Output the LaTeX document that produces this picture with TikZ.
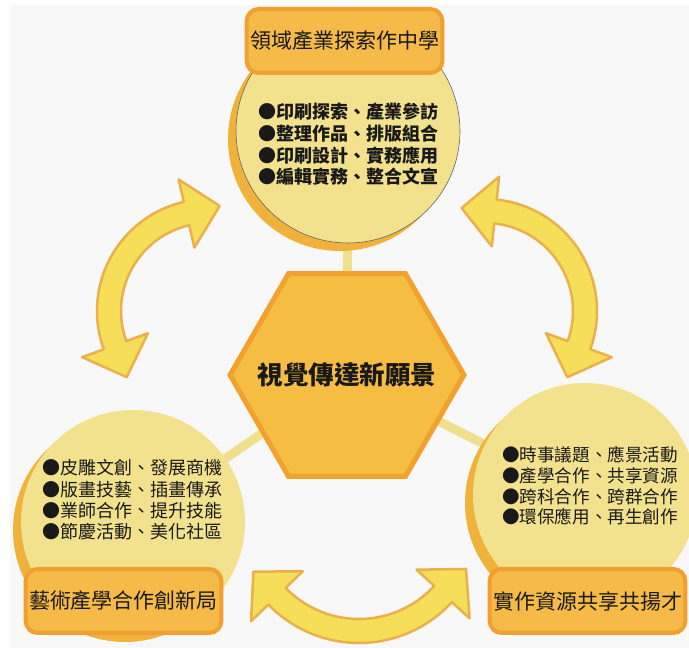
\documentclass[tikz,border=0pt]{standalone}
\usepackage{fontspec}
\setmainfont{Noto Sans CJK TC}
\usetikzlibrary{shadows}
\definecolor{bgray}{HTML}{F8F8F8}
\definecolor{cfill}{HTML}{F2E28E}
\definecolor{cshadow}{HTML}{F0B23A}
\definecolor{boxfill}{HTML}{F6BA48}
\definecolor{boxline}{HTML}{F0A030}
\definecolor{hexfill}{HTML}{F5BE42}
\definecolor{hexline}{HTML}{F2A12E}
\definecolor{arrfill}{HTML}{F6DE58}
\definecolor{arrline}{HTML}{E9B04C}
\definecolor{linkc}{HTML}{F0DF8C}
\tikzset{
  bubble/.style={circle, fill=cfill, minimum size=224pt, inner sep=0pt,
    drop shadow={shadow xshift=-8pt, shadow yshift=-8pt, fill=cshadow, opacity=1}},
  tag/.style={rounded corners=12pt, fill=boxfill, draw=boxline, line width=4pt,
    minimum width=192pt, minimum height=64pt, text=black!90, font=\fontsize{21}{24}\selectfont},
  hexa/.style={fill=hexfill, draw=hexline, line width=5pt, line join=miter},
  hextxt/.style={inner sep=0pt, text=black!90, font=\bfseries\fontsize{25.5}{28}\selectfont},
  link/.style={draw=linkc, line width=9pt},
  bigarrow/.style={fill=arrfill, draw=arrline, line width=2.5pt, line join=round},
  items/.style={align=left, text=black!90, inner sep=0pt}
}
\begin{document}
\begin{tikzpicture}[x=1pt,y=1pt]
    \useasboundingbox (0,0) rectangle (689,648);
    \fill[white] (0,0) rectangle (689,648);
    \fill[bgray] (10,0) rectangle (689,643);
    % centres
    \coordinate (hexc) at (347,273);
    \coordinate (topcc) at (348,517);
    \coordinate (leftcc) at (133,126);
    \coordinate (rightcc) at (585,153);
    % links
    \draw[link] (hexc) -- (topcc);
    \draw[link] (hexc) -- (leftcc);
    \draw[link] (hexc) -- (rightcc);
    % circles
    \node[bubble, draw=black!60, line width=0.6pt] (topc) at (topcc) {};
    \node[bubble] (leftc) at (leftcc) {};
    \node[bubble] (rightc) at (rightcc) {};
    \node[items, font=\bfseries\fontsize{18}{21.7}\selectfont] (toptxt) at (348,503.5)
        {●印刷探索、產業參訪\\●整理作品、排版組合\\●印刷設計、實務應用\\●編輯實務、整合文宣};
    \node[items, font=\fontsize{18}{21.3}\selectfont] (lefttxt) at (132.5,148)
        {●皮雕文創、發展商機\\●版畫技藝、插畫傳承\\●業師合作、提升技能\\●節慶活動、美化社區};
    \node[items, font=\fontsize{17.6}{20.7}\selectfont] (righttxt) at (590,162)
        {●時事議題、應景活動\\●產學合作、共享資源\\●跨科合作、跨群合作\\●環保應用、再生創作};
    % boxes
    \node[tag] (topbox) at (344.5,607) {領域產業探索作中學};
    \node[tag] (leftbox) at (123.5,47) {藝術產學合作創新局};
    \node[tag] (rightbox) at (587.5,47) {實作資源共享共揚才};
    % hexagon
    \begin{scope}[shift={(hexc)}]
    \draw[hexa] (0:117) -- (60:117) -- (120:117) -- (180:117) -- (240:117) -- (300:117) -- cycle;
    \end{scope}
    \node[hextxt] (hex) at (hexc) {視覺傳達新願景};
    % arrows
    \begin{scope}[shift={(209,337)}]
    \draw[bigarrow] (103:112) arc[start angle=103,end angle=200,radius=112pt] -- (200:135)
        -- (218.8:105.6) -- (200:65) -- (200:88) arc[start angle=200,end angle=103,radius=88pt]
        -- (103:65) -- (84.2:105.6) -- (103:135) -- cycle;
    \end{scope}
    \begin{scope}[shift={(485,337)}]
    \draw[bigarrow] (-20:112) arc[start angle=-20,end angle=84,radius=112pt] -- (84:135)
        -- (102.8:105.6) -- (84:65) -- (84:88) arc[start angle=84,end angle=-20,radius=88pt]
        -- (-20:65) -- (-38.8:105.6) -- (-20:135) -- cycle;
    \end{scope}
    \begin{scope}[shift={(359,131)}]
    \draw[bigarrow] (224:126) arc[start angle=224,end angle=317.5,radius=126pt] -- (317.5:150)
        -- (334.1:119) -- (317.5:78) -- (317.5:102) arc[start angle=317.5,end angle=224,radius=102pt]
        -- (224:78) -- (207.4:119) -- (224:150) -- cycle;
    \end{scope}
\end{tikzpicture}
\end{document}
